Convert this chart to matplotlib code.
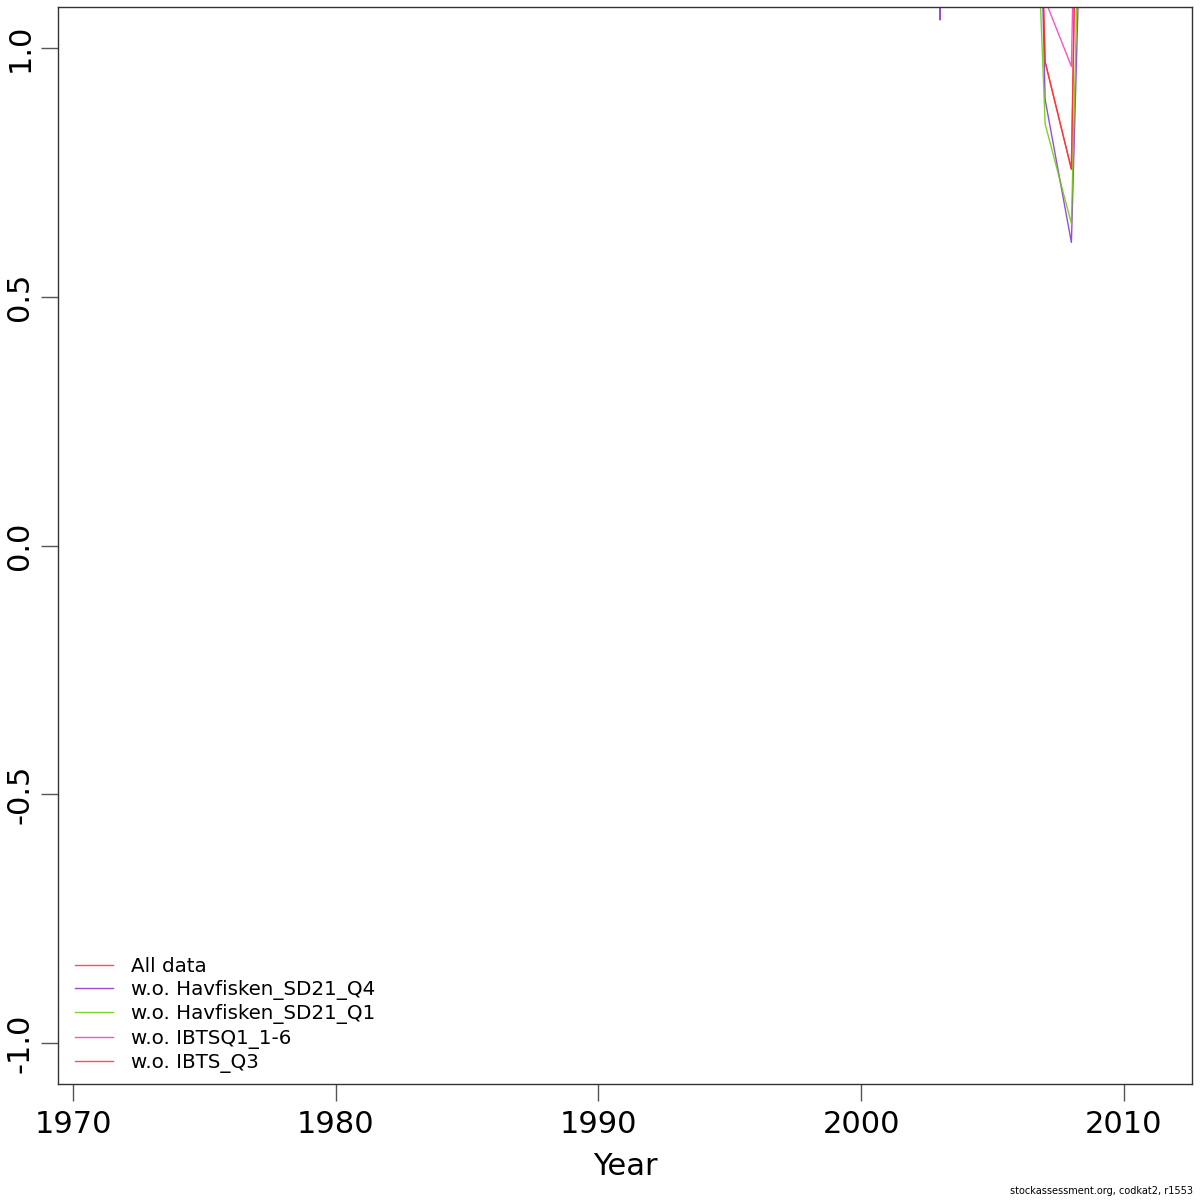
import numpy as np
import matplotlib
matplotlib.use("Agg")
import matplotlib.pyplot as plt

years = [2002, 2003, 2004, 2005, 2006, 2007, 2008, 2009]
all_data = [2.5, 2.5, 2.5, 2.5, 2.9, 0.972, 0.756, 3.8]
wo_havfisken_q4 = [5.0, 1.056, 5.0, 3.0, 3.1, 0.896, 0.609, 2.5]
wo_havfisken_q1 = [2.5, 2.5, 2.5, 2.5, 2.2, 0.847, 0.647, 2.8]
wo_ibtsq1 = [2.5, 2.5, 2.5, 2.5, 3.0, 1.096, 0.9625, 3.6]
wo_ibts_q3 = [2.5, 2.5, 2.5, 2.5, 2.9, 0.972, 0.756, 3.8]

labels = ["All data", "w.o. Havfisken_SD21_Q4", "w.o. Havfisken_SD21_Q1",
          "w.o. IBTSQ1_1-6", "w.o. IBTS_Q3"]
series = [all_data, wo_havfisken_q4, wo_havfisken_q1, wo_ibtsq1, wo_ibts_q3]
colors = ["#FF3030", "#8B2BD0", "#66CC00", "#FF33BB", "#FF3030"]

xticks = [1970, 1980, 1990, 2000, 2010]
yticks = [-1.0, -0.5, 0.0, 0.5, 1.0]

fig = plt.figure(figsize=(12, 12), dpi=100)
ax = fig.add_axes([58/1200, 1 - 1084/1200, (1192-58)/1200, (1084-7)/1200])

for s, c, l in zip(series, colors, labels):
    ax.plot(years, s, color=c, lw=1.0, alpha=0.85, label=l)

ax.set_xlim(1969.43, 2012.59)
ax.set_ylim(-1.082, 1.082)
ax.set_xticks(xticks)
ax.set_xticklabels([str(t) for t in xticks])
ax.set_yticks(yticks)
ax.set_yticklabels([f"{t:.1f}" for t in yticks], rotation=90, va="center")
ax.tick_params(axis="both", direction="out", length=12, width=1, color="#555555",
               labelsize=22)
ax.tick_params(axis="x", pad=7)
ax.tick_params(axis="y", pad=5)
for sp in ax.spines.values():
    sp.set_color("#333333")
    sp.set_linewidth(1)
ax.set_xlabel("Year", fontsize=22, labelpad=9)

leg = ax.legend(loc="lower left", frameon=False, fontsize=14.3,
                handlelength=1.9, handletextpad=0.9, labelspacing=0.22,
                bbox_to_anchor=(0.0053, 0.0), borderaxespad=0.15)

fig.text(0.994, 0.003, "stockassessment.org, codkat2, r1553", ha="right", va="bottom",
         fontsize=7)

fig.savefig("out.png", dpi=100)
